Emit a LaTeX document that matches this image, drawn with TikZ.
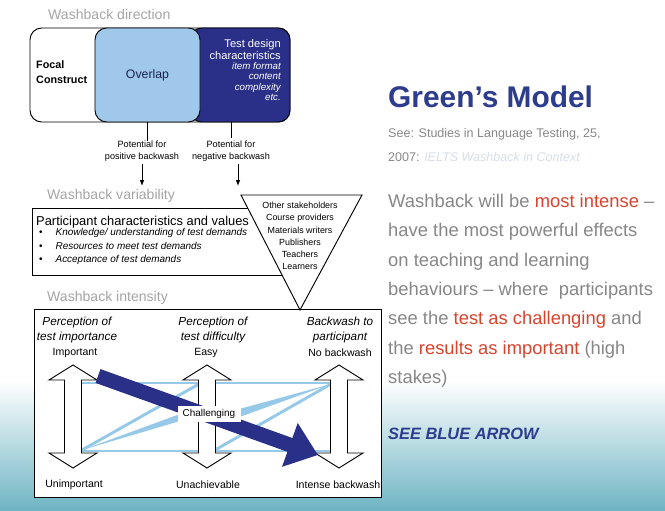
\documentclass[tikz,border=0pt]{standalone}
\usepackage{fontspec}
\setmainfont{Liberation Sans}
\usetikzlibrary{arrows.meta}

\definecolor{navy}{RGB}{42,48,135}
\definecolor{paleblue}{RGB}{160,200,235}
\definecolor{lineblue}{RGB}{150,200,232}
\definecolor{labelgray}{RGB}{165,165,165}
\definecolor{bodygray}{RGB}{135,135,135}
\definecolor{hired}{RGB}{215,68,45}
\definecolor{titleblue}{RGB}{45,60,140}
\definecolor{refpale}{RGB}{215,222,232}
\definecolor{seagreen}{RGB}{110,180,195}

\newcommand{\setsize}[2]{\fontsize{#1pt}{#2pt}\selectfont}
\newcommand{\hot}[1]{\textcolor{hired}{#1}}

\begin{document}
\begin{tikzpicture}[x=0.03cm, y=-0.03cm,
    block/.style={draw, line width=0.8pt, rounded corners=10pt, minimum height=2.82cm, inner sep=0},
    plainbox/.style={draw, fill=white, line width=0.8pt, inner sep=0},
    stagelabel/.style={anchor=base west, inner sep=0, text=labelgray, font=\setsize{12}{14}},
    small/.style={inner sep=0, align=center, font=\setsize{7.8}{10.2}},
    heading/.style={inner sep=0, align=center, font=\itshape\setsize{10}{12.75}},
    endlabel/.style={inner sep=0, font=\setsize{9}{11}},
    bluethin/.style={draw=lineblue, line width=2.5pt},
    bluearrow/.style={draw=navy, line width=12.5pt, -{Triangle[length=25.5pt,width=38pt]}},
    updown/.pic={
        \draw[fill=white, line width=0.8pt] (-8.5,-36.5) -- (-8.5,36.5) -- (-24,36.5) -- (0,51.5)
            -- (24,36.5) -- (8.5,36.5) -- (8.5,-36.5) -- (24,-36.5) -- (0,-51.5) -- (-24,-36.5) -- cycle;
    }]
    \useasboundingbox (0,0) rectangle (665,511);
    \fill[white] (0,0) rectangle (665,511);
    \shade[top color=white, bottom color=seagreen] (0,380) rectangle (665,511);

    % washback direction
    \node[stagelabel] (direction) at (48,20) {Washback direction};
    \node[block, fill=white, minimum width=7.8cm] (outer) at (160,75) {};
    \node[block, fill=navy, minimum width=3cm] (design) at (240,75) {};
    \node[block, fill=paleblue, minimum width=3.15cm, text={rgb,255:red,25;green,35;blue,80},
        font=\setsize{10.5}{12}] (overlap) at (147.5,75) {Overlap};
    \node[anchor=west, align=left, inner sep=0, font=\bfseries\setsize{9.2}{12.75}] (focal) at (36,72.5) {Focal\\Construct};
    \node[anchor=east, align=right, inner sep=0, text=white, font=\setsize{9.5}{11}] (designhead) at (281,49.5) {Test design\\characteristics};
    \node[anchor=east, align=right, inner sep=0, text=white, font=\itshape\setsize{8.3}{8.8}] (designlist) at (281,81.5) {item format\\content\\complexity\\etc.};

    \node[small] (pos) at (142,151) {Potential for\\positive backwash};
    \node[small] (neg) at (231,151) {Potential for\\negative backwash};
    \draw[line width=0.8pt] (overlap.south) -- (overlap.south |- pos.north);
    \draw[line width=0.8pt] (design.south -| neg.north) -- ++(0,16);
    \coordinate (posend) at (142,186);
    \coordinate (negend) at (238,186);
    \draw[line width=0.8pt, -{Latex[length=5pt,width=4pt]}] (pos.south -| posend) ++(0,3) -- (posend);
    \draw[line width=0.8pt, -{Latex[length=5pt,width=4pt]}] (neg.south -| negend) ++(0,3) -- (negend);

    % washback variability
    \node[stagelabel] (variability) at (47,200) {Washback variability};
    \node[plainbox, minimum width=7.74cm, minimum height=2.01cm] (varbox) at (161,241.5) {};
    \node[anchor=west, inner sep=0, font=\setsize{11}{12}] (partic) at (36,222) {Participant characteristics and values};
    \node[anchor=west, align=left, inner sep=0, font=\setsize{8.5}{11.5}] (demands) at (39,246.5)
        {\textbullet\hspace{11pt}\textit{Knowledge/ understanding of test demands}\\
         \textbullet\hspace{11pt}\textit{Resources to meet test demands}\\
         \textbullet\hspace{11pt}\textit{Acceptance of test demands}};

    % washback intensity
    \node[stagelabel] (intensity) at (47,302) {Washback intensity};
    \node[plainbox, minimum width=10.41cm, minimum height=5.64cm] (intbox) at (207.5,403) {};

    \draw[fill=white, line width=0.8pt] (241,195) -- (362,195) -- (300,310) -- cycle;
    \node[inner sep=0, align=center, font=\setsize{7.6}{10.4}] (stake) at (300,236)
        {Other stakeholders\\Course providers\\Materials writers\\Publishers\\Teachers\\Learners};

    \draw[bluethin] (81,383) -- (331,383);
    \draw[bluethin] (81,451) -- (331,451);
    \draw[bluethin] (82,450) -- (199,384);
    \draw[bluethin] (331,384) -- (215,450);
    \fill[lineblue] (82,450) -- (180,414) -- (180,421) -- cycle;
    \fill[lineblue] (331,384) -- (232,411) -- (234,419) -- cycle;

    \pic at (73,416.5) {updown};
    \pic at (207,416.5) {updown};
    \pic at (339,416.5) {updown};

    \coordinate (bluestart) at (98,376);
    \coordinate (bluetip) at (318,455);
    \draw[bluearrow] (bluestart) -- (bluetip);
    \node[fill=white, inner sep=0, minimum width=1.89cm, minimum height=0.45cm,
        font=\setsize{8.5}{10}] (chall) at (209,414) {Challenging};

    \node[heading] (importance) at (77,330) {Perception of\\test importance};
    \node[heading] (difficulty) at (213,330) {Perception of\\test difficulty};
    \node[heading] (participant) at (340,330) {Backwash to\\participant};
    \node[endlabel] (important) at (75,353) {Important};
    \node[endlabel] (easy) at (206,353) {Easy};
    \node[endlabel] (nobackwash) at (340,353) {No backwash};
    \node[endlabel] (unimportant) at (74,485) {Unimportant};
    \node[endlabel] (unachievable) at (208,485) {Unachievable};
    \node[endlabel] (intense) at (338,485) {Intense backwash};

    % right hand text
    \node[anchor=base west, inner sep=0, text=titleblue, font=\bfseries\setsize{25.5}{30}] (title) at (388,108) {Green’s Model};
    \node[anchor=north west, align=left, inner sep=0, text=bodygray, font=\setsize{10.7}{20.4}] (source) at (388,128.5)
        {See: Studies in Language Testing, 25,\\2007: \textcolor{refpale}{\textit{IELTS Washback in Context}}};
    \node[anchor=north west, align=left, inner sep=0, text=bodygray, font=\setsize{15.7}{25}] (summary) at (388,194)
        {Washback will be \hot{most intense} –\\
         have the most powerful effects\\
         on teaching and learning\\
         behaviours – where\ \ participants\\
         see the \hot{test as challenging} and\\
         the \hot{results as important} (high\\
         stakes)};
    \node[anchor=base west, inner sep=0, text=titleblue, font=\bfseries\itshape\setsize{14}{16}] (seearrow) at (388,439) {SEE BLUE ARROW};
\end{tikzpicture}
\end{document}
